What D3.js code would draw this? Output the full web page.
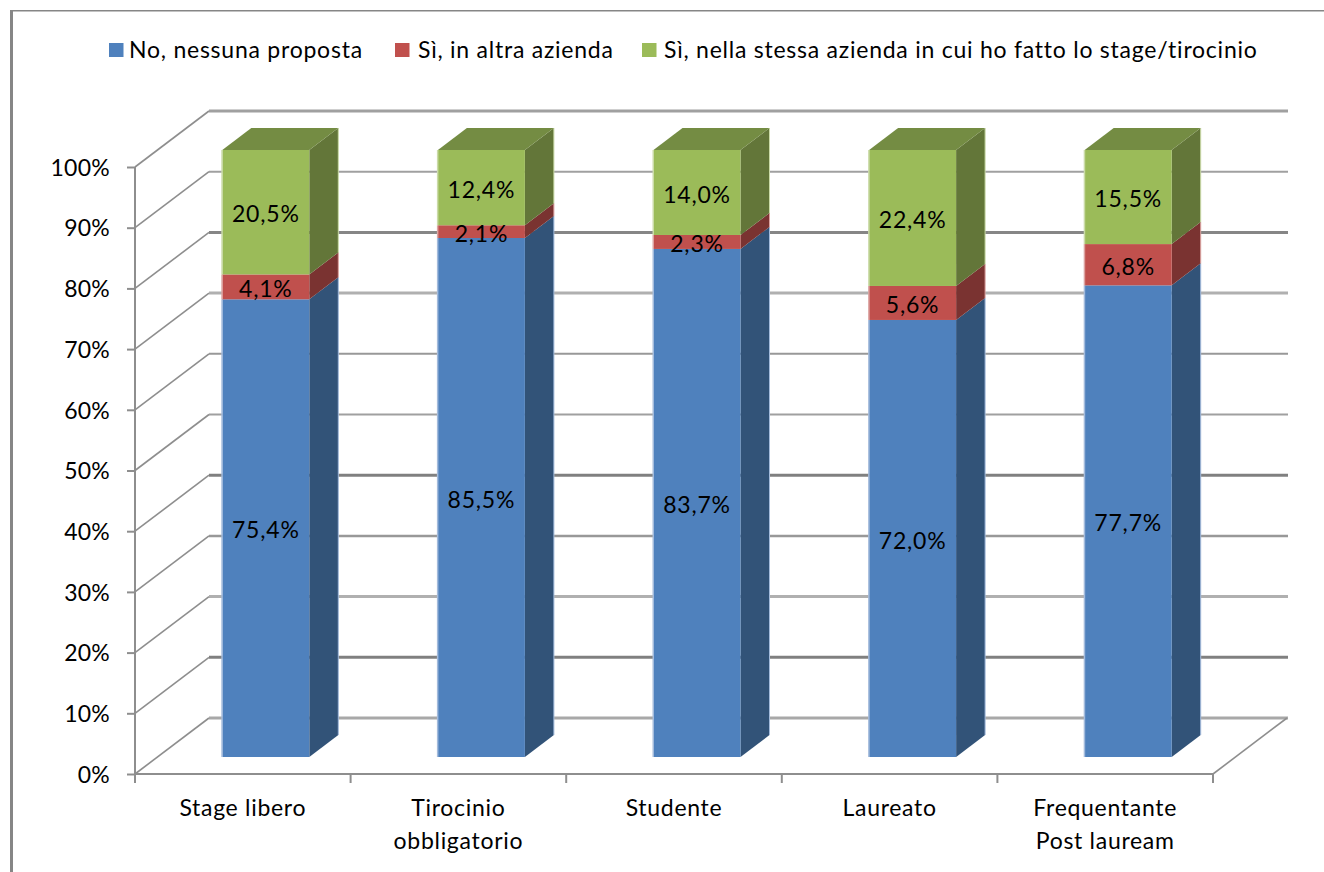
<!DOCTYPE html>
<html>
<head>
<meta charset="utf-8">
<script src="https://cdn.jsdelivr.net/npm/d3@7"></script>
<style>
html, body { margin: 0; padding: 0; background: #fff; }
svg { display: block; }
</style>
</head>
<body>
<div id="chart"></div>
<script>
const CATEGORIES = [['Stage libero'], ['Tirocinio', 'obbligatorio'], ['Studente'], ['Laureato'], ['Frequentante', 'Post lauream']]
const NESSUNA = [75.4, 85.5, 83.7, 72.0, 77.7]
const ALTRA = [4.1, 2.1, 2.3, 5.6, 6.8]
const STESSA = [20.5, 12.4, 14.0, 22.4, 15.5]
const SERIES_NAMES = ['No, nessuna proposta', 'Sì, in altra azienda', 'Sì, nella stessa azienda in cui ho fatto lo stage/tirocinio']
const TICKS = [0, 10, 20, 30, 40, 50, 60, 70, 80, 90, 100]

const WIDTH = 1324
const HEIGHT = 872
const FONT = 'Lato, Carlito, sans-serif'
const GRID = '#8e8e8e'
// epaisseur et gris des lignes du fond, de 0% a 100%
const GRID_WIDTHS = [3, 3, 3, 2.5, 3, 2, 2, 3, 3, 2, 3]
const GRID_COLORS = ['#a8a8a8', '#808080', '#b0b0b0', '#989898', '#808080', '#a0a0a0', '#989898', '#b0b0b0', '#868686', '#a0a0a0', '#a0a0a0']

// profondeur du mur du fond et des batons
const WALL_DX = 74
const WALL_DY = -56
const BAR_DX = 29
const BAR_DY = -22
const BAR_WIDTH = 87

const FRONT = ['#4f81bd', '#c0504d', '#9bbb59']
const SIDE = ['#325378', '#7a3331', '#637639']
const EDGE = ['#a3bbdc', '#dca3a1', '#cbdba8']
const TOP = '#748c43'

const LEGEND_BOX = [109, 395, 642]
const LEGEND_TEXT = [129, 418, 664]

const svg = d3.select('#chart').append('svg').attr('width', WIDTH).attr('height', HEIGHT)

const xScale = d3.scaleBand().domain(d3.range(CATEGORIES.length)).range([135, 1213])
const yAxisScale = d3.scaleLinear().domain([0, 100]).range([774, 167])
const yBarScale = d3.scaleLinear().domain([0, 100]).range([757, 150])

// cadre
svg.append('line')
    .attr('x1', 10).attr('x2', WIDTH)
    .attr('y1', 10.75).attr('y2', 10.75)
    .attr('stroke', '#868686')
    .attr('stroke-width', 1.5)
svg.append('line')
    .attr('x1', 11.5).attr('x2', 11.5)
    .attr('y1', 10).attr('y2', HEIGHT)
    .attr('stroke', '#868686')
    .attr('stroke-width', 3)

// mur du fond
svg.append('g').selectAll('line')
    .data(TICKS)
    .enter()
    .append('line')
    .attr('x1', xScale.range()[0] + WALL_DX)
    .attr('x2', xScale.range()[1] + WALL_DX + 1)
    .attr('y1', d => yAxisScale(d) + WALL_DY)
    .attr('y2', d => yAxisScale(d) + WALL_DY)
    .attr('stroke', (d, i) => GRID_COLORS[i])
    .attr('stroke-width', (d, i) => GRID_WIDTHS[i])

svg.append('g').selectAll('line')
    .data(TICKS)
    .enter()
    .append('line')
    .attr('x1', xScale.range()[0])
    .attr('x2', xScale.range()[0] + WALL_DX)
    .attr('y1', d => yAxisScale(d))
    .attr('y2', d => yAxisScale(d) + WALL_DY)
    .attr('stroke', GRID)
    .attr('stroke-width', 1.6)

svg.append('line')
    .attr('x1', xScale.range()[1])
    .attr('x2', xScale.range()[1] + WALL_DX)
    .attr('y1', yAxisScale(0))
    .attr('y2', yAxisScale(0) + WALL_DY)
    .attr('stroke', GRID)
    .attr('stroke-width', 1.6)

// axes
const axisY = d3.axisLeft(yAxisScale)
    .tickValues(TICKS)
    .tickFormat(d => `${d}%`)
    .tickSize(8)
    .tickPadding(17)

const axisYGroup = svg.append('g')
    .attr('transform', `translate(${xScale.range()[0]}, 0)`)
    .call(axisY)
axisYGroup.selectAll('line, path').attr('stroke', GRID).attr('stroke-width', 2)
axisYGroup.select('.domain').attr('d', `M0,${yAxisScale(100)} V${yAxisScale(0)}`)
axisYGroup.selectAll('text')
    .attr('font-family', FONT)
    .attr('font-size', 23)
    .attr('letter-spacing', 0.25)
    .attr('fill', '#000')
    .attr('dy', '0.36em')

const axisX = d3.axisBottom(xScale.copy().paddingInner(0).paddingOuter(0))
    .tickValues([])
    .tickSize(9)
svg.append('g')
    .attr('transform', `translate(0, ${yAxisScale(0)})`)
    .call(axisX)
    .call(g => g.select('.domain').attr('d', `M${xScale.range()[0]},0 H${xScale.range()[1]}`).attr('stroke', GRID).attr('stroke-width', 2))

svg.append('g').selectAll('line')
    .data(d3.range(CATEGORIES.length + 1))
    .enter()
    .append('line')
    .attr('x1', d => xScale.range()[0] + d * xScale.step())
    .attr('x2', d => xScale.range()[0] + d * xScale.step())
    .attr('y1', yAxisScale(0))
    .attr('y2', yAxisScale(0) + 9)
    .attr('stroke', GRID)
    .attr('stroke-width', 2)

svg.append('g').selectAll('text')
    .data(CATEGORIES)
    .enter()
    .append('text')
    .attr('text-anchor', 'middle')
    .attr('font-family', FONT)
    .attr('font-size', 23)
    .attr('letter-spacing', 0.7)
    .attr('fill', '#000')
    .selectAll('tspan')
    .data((d, i) => d.map((line, k) => ({ line, k, i })))
    .enter()
    .append('tspan')
    .attr('x', d => xScale(d.i) + xScale.step() / 2)
    .attr('y', d => yAxisScale(0) + 42 + d.k * 33)
    .text(d => d.line)

// batons empiles
const stack = d3.stack().keys([0, 1, 2]).value((d, k) => d[k])
const layers = stack(d3.zip(NESSUNA, ALTRA, STESSA))
const barLeft = i => xScale(i) + (xScale.step() - BAR_WIDTH) / 2 + 23

const bars = svg.append('g').selectAll('g')
    .data(d3.range(CATEGORIES.length))
    .enter()
    .append('g')

layers.forEach((layer, s) => {
    // face de cote
    bars.append('path')
        .attr('fill', SIDE[s])
        .attr('d', i => {
            const x = barLeft(i) + BAR_WIDTH
            const y0 = yBarScale(layer[i][0])
            const y1 = yBarScale(layer[i][1])
            return `M${x},${y0} L${x + BAR_DX},${y0 + BAR_DY} V${y1 + BAR_DY} L${x},${y1} Z`
        })
    bars.append('rect')
        .attr('x', i => barLeft(i) + BAR_WIDTH + BAR_DX - 0.5)
        .attr('width', 1)
        .attr('y', i => yBarScale(layer[i][1]) + BAR_DY)
        .attr('height', i => yBarScale(layer[i][0]) - yBarScale(layer[i][1]))
        .attr('fill', EDGE[s])
    // face avant
    bars.append('rect')
        .attr('x', i => barLeft(i))
        .attr('width', BAR_WIDTH)
        .attr('y', i => yBarScale(layer[i][1]))
        .attr('height', i => yBarScale(layer[i][0]) - yBarScale(layer[i][1]))
        .attr('fill', FRONT[s])
    bars.append('rect')
        .attr('x', i => barLeft(i) - 1)
        .attr('width', 1.5)
        .attr('y', i => yBarScale(layer[i][1]))
        .attr('height', i => yBarScale(layer[i][0]) - yBarScale(layer[i][1]))
        .attr('fill', EDGE[s])
})

// dessus
bars.append('path')
    .attr('fill', TOP)
    .attr('d', i => {
        const x = barLeft(i)
        const y = yBarScale(100)
        return `M${x},${y} H${x + BAR_WIDTH} L${x + BAR_WIDTH + BAR_DX},${y + BAR_DY} H${x + BAR_DX} Z`
    })

// etiquettes
layers.forEach(layer => {
    svg.append('g').selectAll('text')
        .data(layer)
        .enter()
        .append('text')
        .attr('x', (d, i) => barLeft(i) + BAR_WIDTH / 2)
        .attr('y', d => yBarScale((d[0] + d[1]) / 2) + 2)
        .attr('dy', '0.36em')
        .attr('text-anchor', 'middle')
        .attr('font-family', FONT)
        .attr('font-size', 23)
        .attr('letter-spacing', 0.8)
        .attr('fill', '#000')
        .text(d => `${(d[1] - d[0]).toFixed(1).replace('.', ',')}%`)
})

// legende
const legend = svg.append('g').selectAll('g')
    .data(SERIES_NAMES)
    .enter()
    .append('g')

legend.append('rect')
    .attr('x', (d, i) => LEGEND_BOX[i])
    .attr('y', 43)
    .attr('width', 14.5)
    .attr('height', 14)
    .attr('fill', (d, i) => FRONT[i])

legend.append('text')
    .attr('x', (d, i) => LEGEND_TEXT[i])
    .attr('y', 50)
    .attr('dy', '0.36em')
    .attr('font-family', FONT)
    .attr('font-size', 23)
    .attr('letter-spacing', 0.76)
    .attr('fill', '#000')
    .text(d => d)
</script>
</body>
</html>
